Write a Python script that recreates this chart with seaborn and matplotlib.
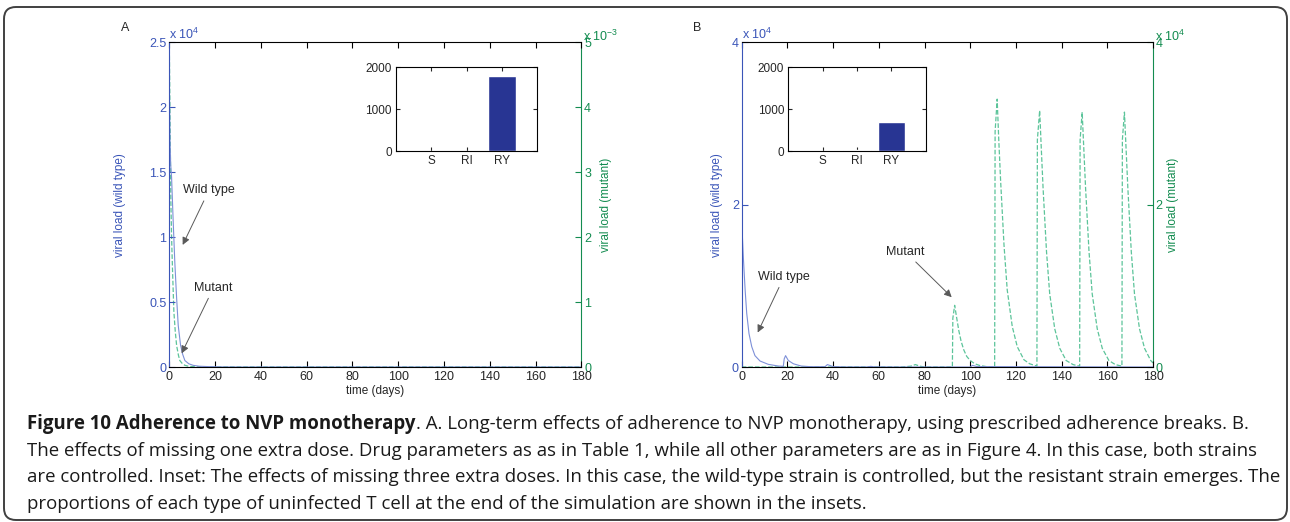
import matplotlib
matplotlib.use("Agg")
import matplotlib.pyplot as plt
import seaborn as sns
from matplotlib.font_manager import FontProperties
from matplotlib.patches import FancyBboxPatch
from matplotlib.transforms import IdentityTransform

# ---- data ----
# panel A: wild type in units of 1e4, mutant in units of 1e-3
a_wild_t = [0, 0.3, 0.6, 1.0, 1.7, 2.4, 3.2, 3.9, 4.9, 5.8, 6.8, 8.5, 10.4, 13, 17, 22, 30, 180]
a_wild_v = [2.2, 1.75, 1.56, 1.46, 1.12, 0.81, 0.53, 0.32, 0.17, 0.1, 0.05, 0.025, 0.013, 0.006, 0.003, 0.001, 0, 0]
a_mut_t = [0, 0.3, 0.7, 1.0, 1.4, 2.0, 2.6, 3.2, 4.0, 4.6, 5.5, 6.8, 8.5, 11, 15, 180]
a_mut_v = [5.0, 3.9, 2.54, 2.0, 1.5, 0.85, 0.55, 0.33, 0.18, 0.1, 0.06, 0.026, 0.01, 0.004, 0.001, 0]

# panel B: both in units of 1e4
b_wild_t = [0, 0.7, 1.5, 2.2, 3.2, 4.4, 5.8, 8, 11.6, 16, 18.2, 18.6, 19.2, 20.4, 22.6, 26, 30,
            36.5, 37.5, 38.5, 40, 45, 55, 56.5, 58, 70, 100, 101, 103, 180]
b_wild_v = [1.8, 1.36, 0.95, 0.66, 0.41, 0.25, 0.14, 0.074, 0.033, 0.012, 0.008, 0.1, 0.14, 0.08, 0.04, 0.012, 0.004,
            0.004, 0.03, 0.02, 0.005, 0.001, 0.001, 0.008, 0.002, 0, 0, 0.02, 0.005, 0]
b_mut_t = [0, 70, 74, 76, 78, 80, 92.2, 92.4, 93.2, 94, 95, 96, 97.2, 98.5, 100, 102, 104, 107,
           110.7, 110.9, 111.8, 112.5, 113.3, 114.8, 116.2, 118.4, 120.6, 123.5, 126,
           129.2, 129.4, 130.4, 131.1, 131.9, 133.4, 134.8, 137, 139.2, 142, 145,
           147.9, 148.1, 149, 149.7, 150.5, 152, 153.4, 155.6, 157.8, 160.7, 163.5,
           166.4, 166.6, 167.5, 168.2, 169, 170.5, 171.9, 174.1, 176.3, 179, 180]
b_mut_v = [0, 0, 0.01, 0.03, 0.01, 0, 0, 0.6, 0.76, 0.62, 0.45, 0.32, 0.21, 0.13, 0.08, 0.04, 0.02, 0.005,
           0, 2.9, 3.3, 2.8, 2.3, 1.5, 0.95, 0.5, 0.25, 0.09, 0.04,
           0.01, 2.8, 3.16, 2.7, 2.2, 1.42, 0.9, 0.47, 0.23, 0.08, 0.03,
           0.01, 2.8, 3.14, 2.7, 2.2, 1.42, 0.9, 0.47, 0.23, 0.08, 0.03,
           0.01, 2.8, 3.14, 2.7, 2.2, 1.42, 0.9, 0.47, 0.23, 0.08, 0.05]

cells = ["S", "RI", "RY"]
a_cells = [0, 8, 1800]
b_cells = [0, 24, 696]

time_ticks = list(range(0, 181, 20))
a_left_ticks = [0, 0.5, 1, 1.5, 2, 2.5]
a_right_ticks = [0, 1, 2, 3, 4, 5]
b_ticks = [0, 2, 4]

caption_bold = "Figure 10 Adherence to NVP monotherapy"
caption_lines = [
    ". A. Long-term effects of adherence to NVP monotherapy, using prescribed adherence breaks. B.",
    "The effects of missing one extra dose. Drug parameters as as in Table 1, while all other parameters are as in Figure 4. In this case, both strains",
    "are controlled. Inset: The effects of missing three extra doses. In this case, the wild-type strain is controlled, but the resistant strain emerges. The",
    "proportions of each type of uninfected T cell at the end of the simulation are shown in the insets.",
]

# ---- style ----
sns.set_style("ticks")
plt.rcParams["font.family"] = ["Liberation Sans", "DejaVu Sans"]
plt.rcParams["mathtext.default"] = "regular"

BLUE = "#3a55b8"
BLUE_LINE = "#7d90d8"
GREEN = "#138c50"
GREEN_LINE = "#5cc49a"
NAVY = "#283593"
W, H = 1290, 522
TICK = 9

fig = plt.figure(figsize=(W / 100, H / 100), dpi=100)


def px(x0, y0, x1, y1):
    return [x0 / W, 1 - y1 / H, (x1 - x0) / W, (y1 - y0) / H]


def main_panel(rect, wt, wv, mt, mv, lticks, rticks, lylim, rylim, lexp, rexp, llab_x, rlab_x):
    ax = fig.add_axes(rect)
    tw = ax.twinx()
    sns.lineplot(x=wt, y=wv, ax=ax, color=BLUE_LINE, lw=0.8)
    sns.lineplot(x=mt, y=mv, ax=tw, color=GREEN_LINE, lw=0.9, linestyle="--", dashes=(5, 3))
    ax.set_xlim(0, 180)
    ax.set_ylim(*lylim)
    tw.set_ylim(*rylim)
    ax.set_xticks(time_ticks)
    ax.set_yticks(lticks)
    tw.set_yticks(rticks)
    ax.set_yticklabels([f"{v:g}" for v in lticks])
    tw.set_yticklabels([f"{v:g}" for v in rticks])
    ax.tick_params(axis="x", direction="in", top=True, length=4, labelsize=TICK, pad=3, color="k")
    ax.tick_params(axis="y", direction="in", right=False, length=4, labelsize=TICK, pad=2,
                   color=BLUE, labelcolor=BLUE)
    tw.tick_params(axis="y", direction="in", length=4, labelsize=TICK, pad=2, color=GREEN, labelcolor=GREEN)
    for s in ["top", "bottom"]:
        ax.spines[s].set_color("k")
        tw.spines[s].set_visible(False)
    ax.spines["right"].set_visible(False)
    tw.spines["left"].set_visible(False)
    ax.spines["left"].set_color(BLUE)
    tw.spines["right"].set_color(GREEN)
    for s in ax.spines.values():
        s.set_linewidth(0.8)
    tw.spines["right"].set_linewidth(0.8)
    ax.set_xlabel("time (days)", fontsize=8.5, labelpad=1)
    ax.set_ylabel("viral load (wild type)", fontsize=8.5, color=BLUE)
    tw.set_ylabel("viral load (mutant)", fontsize=8.5, color=GREEN)
    ax.yaxis.set_label_coords(llab_x, 0.5)
    tw.yaxis.set_label_coords(rlab_x, 0.5)
    ax.text(0.0, 1.0, lexp, transform=ax.transAxes, ha="left", va="bottom", fontsize=9, color=BLUE)
    tw.text(1.004, 0.995, rexp, transform=tw.transAxes, ha="left", va="bottom", fontsize=9, color=GREEN)
    ax.set_zorder(tw.get_zorder() + 1)
    ax.patch.set_visible(False)
    return ax, tw


def inset(rect, vals):
    ax = fig.add_axes(rect)
    sns.barplot(x=cells, y=vals, ax=ax, color=NAVY, saturation=1, width=0.8)
    ax.set_xlim(-1, 3)
    ax.set_ylim(0, 2000)
    ax.set_yticks([0, 1000, 2000])
    ax.set_xlabel("")
    ax.tick_params(direction="in", top=True, right=True, length=3, labelsize=8.5, pad=3)
    for s in ax.spines.values():
        s.set_color("k")
        s.set_linewidth(0.8)
    return ax


arrow = dict(arrowstyle="-|>", color="0.35", lw=0.7, mutation_scale=11, shrinkA=1, shrinkB=0)

axA, twA = main_panel(px(169.3, 42.3, 581.3, 367), a_wild_t, a_wild_v, a_mut_t, a_mut_v,
                      a_left_ticks, a_right_ticks, (0, 2.5), (0, 5),
                      r"x 10$^{4}$", r"x 10$^{-3}$", -0.105, 1.045)
axA.annotate("Wild type", xy=(5.85, 0.94), xytext=(17.3, 1.36), fontsize=9, ha="center", va="center",
             arrowprops=arrow)
axA.annotate("Mutant", xy=(5.4, 0.105), xytext=(19.3, 0.61), fontsize=9, ha="center", va="center",
             arrowprops=arrow)

axB, twB = main_panel(px(741.7, 42.3, 1153, 367), b_wild_t, b_wild_v, b_mut_t, b_mut_v,
                      b_ticks, b_ticks, (0, 4), (0, 4),
                      r"x 10$^{4}$", r"x 10$^{4}$", -0.045, 1.035)
axB.annotate("Wild type", xy=(7.0, 0.425), xytext=(18.5, 1.11), fontsize=9, ha="center", va="center",
             arrowprops=arrow)
axB.annotate("Mutant", xy=(91.9, 0.86), xytext=(71.6, 1.42), fontsize=9, ha="center", va="center",
             arrowprops=arrow)

inset(px(396, 67.3, 537.3, 151), a_cells)
inset(px(788.3, 67.3, 925.7, 151), b_cells)

fig.text(125 / W, 1 - 28 / H, "A", ha="center", va="center", fontsize=9)
fig.text(697 / W, 1 - 28 / H, "B", ha="center", va="center", fontsize=9)

# ---- caption (Open Sans), size fitted so "The effects ... Drug" spans ~373 px ----
cap_reg = FontProperties(family="Open Sans")
cap_bold = FontProperties(family="Open Sans", weight="bold")
renderer = fig.canvas.get_renderer()
probe = fig.text(0, 0, "The effects of missing one extra dose. Drug", fontproperties=cap_reg, fontsize=12)
wpx = probe.get_window_extent(renderer).width
probe.remove()
cap_size = 12 * 373 / wpx
cap_reg.set_size(cap_size)
cap_bold.set_size(cap_size)

x0 = 27
ys = [429, 455.7, 482.4, 509]
tb = fig.text(x0 / W, 1 - ys[0] / H, caption_bold, fontproperties=cap_bold, va="baseline", color="#1a1a1a")
bb = tb.get_window_extent(renderer)
fig.text(bb.x1 / W, 1 - ys[0] / H, caption_lines[0], fontproperties=cap_reg, va="baseline", color="#1a1a1a")
for line, y in zip(caption_lines[1:], ys[1:]):
    fig.text(x0 / W, 1 - y / H, line, fontproperties=cap_reg, va="baseline", color="#1a1a1a")

frame = FancyBboxPatch((4, 2), 1283, 513, boxstyle="round,pad=0,rounding_size=12",
                       transform=IdentityTransform(), fill=False, lw=1.4, ec="0.25")
fig.add_artist(frame)

fig.savefig("out.png", dpi=100)
